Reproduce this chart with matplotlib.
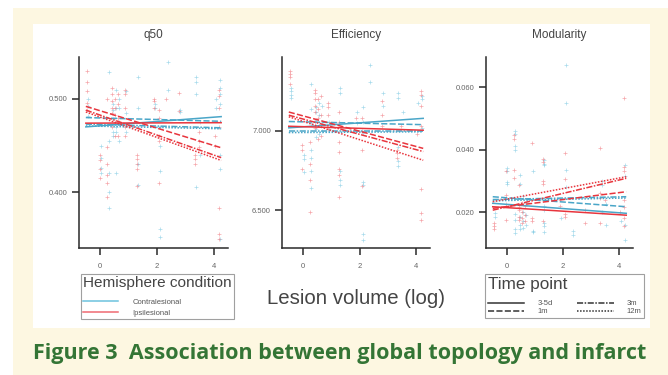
import numpy as np
import matplotlib
matplotlib.use("Agg")
import matplotlib.pyplot as plt
from matplotlib.patches import Rectangle
from matplotlib.lines import Line2D

plt.rcParams['font.family'] = ['Liberation Sans', 'DejaVu Sans']

# lesion volume (log) of each subject
subj_x = [-0.45, 0.0, 0.28, 0.45, 0.55, 0.65, 0.9, 1.3, 1.9, 2.1, 2.35, 2.8, 3.35, 3.5, 4.05, 4.2]

# q50 values per subject
q50_contra = [[0.500, 0.492, 0.482], [0.450, 0.437, 0.426, 0.420],
              [0.529, 0.455, 0.420, 0.400, 0.383], [0.495, 0.488, 0.478, 0.465, 0.460],
              [0.510, 0.490, 0.470, 0.465, 0.420], [0.500, 0.490, 0.475, 0.455],
              [0.508, 0.485, 0.465], [0.523, 0.490, 0.430, 0.408], [0.495, 0.490],
              [0.470, 0.450, 0.423, 0.360, 0.352], [0.540, 0.510], [0.488, 0.486],
              [0.523, 0.518, 0.505, 0.405], [0.475, 0.440], [0.500, 0.490],
              [0.520, 0.512, 0.505, 0.495, 0.440, 0.425, 0.350]]
q50_ipsi = [[0.530, 0.518, 0.508, 0.496, 0.488], [0.440, 0.434, 0.425, 0.415],
            [0.500, 0.448, 0.430, 0.418, 0.410, 0.395], [0.512, 0.505, 0.498, 0.490, 0.485, 0.470],
            [0.500, 0.490, 0.483, 0.475, 0.460], [0.505, 0.495, 0.480, 0.460],
            [0.510, 0.505, 0.490, 0.470, 0.460], [0.440, 0.435, 0.430, 0.425, 0.407],
            [0.500, 0.498, 0.490], [0.488, 0.480, 0.460, 0.455, 0.410], [0.500],
            [0.506, 0.487], [0.440, 0.435, 0.430], [0.465, 0.455, 0.448], [0.460, 0.450],
            [0.510, 0.503, 0.490, 0.470, 0.383, 0.355, 0.350]]

# efficiency values per subject
eff_contra = [[7.27, 7.25, 7.23, 7.21], [6.85, 6.82, 6.74],
              [7.30, 7.14, 7.05, 6.88, 6.83, 6.75, 6.64], [7.15, 7.12, 7.07, 7.01, 6.96],
              [7.18, 7.10, 7.04, 6.98], [7.16, 7.06, 7.00], [7.06, 7.01],
              [7.27, 7.24, 6.75, 6.69, 6.66], [7.12, 7.05],
              [7.15, 7.06, 6.99, 6.68, 6.66, 6.35, 6.31], [7.42, 7.31], [7.24, 7.16],
              [7.24, 7.21, 6.90, 6.81, 6.78], [7.12], [7.18], [7.22, 7.20, 7.02]]
eff_ipsi = [[7.38, 7.36, 7.34, 7.30], [6.91, 6.88, 6.76], [6.93, 6.79, 6.69, 6.49],
            [7.26, 7.24, 7.20, 7.16, 7.12, 7.06, 7.02], [7.20, 7.14, 7.08, 6.95],
            [7.22, 7.10, 7.04, 6.97], [7.18, 7.15, 7.10, 7.01],
            [7.12, 7.06, 6.93, 6.87, 6.76, 6.72, 6.58], [7.08], [7.08, 7.00, 6.88, 6.65],
            [], [7.19, 7.10, 7.03], [6.88, 6.86, 6.83], [7.03], [6.98],
            [7.25, 7.23, 7.16, 7.03, 6.63, 6.48, 6.44]]

# modularity values per subject
mod_contra = [[0.0196, 0.0185], [0.0340, 0.0330, 0.0297, 0.0290],
              [0.0460, 0.0450, 0.0410, 0.0400, 0.0195, 0.0175, 0.0145, 0.0133],
              [0.0318, 0.0290, 0.0185, 0.0160, 0.0145], [0.0250, 0.0200, 0.0170, 0.0150],
              [0.0230, 0.0190, 0.0160], [0.0330, 0.0140, 0.0135],
              [0.0365, 0.0355, 0.0350, 0.0220, 0.0205, 0.0165, 0.0155, 0.0135], [0.0180],
              [0.0670, 0.0550, 0.0334, 0.0280], [0.0140, 0.0125], [],
              [0.0300, 0.0285, 0.0200], [0.0225, 0.0160], [0.0170],
              [0.0350, 0.0315, 0.0160, 0.0110]]
mod_ipsi = [[0.0165, 0.0155, 0.0145], [0.0330, 0.0255, 0.0225, 0.0175],
            [0.0446, 0.0435, 0.0335, 0.0310], [0.0285, 0.0215, 0.0205, 0.0185, 0.0175],
            [0.0230, 0.0200, 0.0180, 0.0165], [0.0220, 0.0190, 0.0170],
            [0.0420, 0.0180, 0.0170], [0.0370, 0.0360, 0.0300, 0.0290, 0.0170], [0.0220],
            [0.0389, 0.0305, 0.0195, 0.0185], [], [0.0206, 0.0165],
            [0.0405, 0.0260, 0.0245, 0.0165], [0.0240], [0.0200],
            [0.0565, 0.0345, 0.0330, 0.0240, 0.0215, 0.0180, 0.0155]]

# fitted lines: value at left end and right end, order 3-5d, 1m, 3m, 12m
line_x = [-0.5, 4.25]
timepoints = ['3-5d', '1m', '3m', '12m']
q50_fit_contra = [(0.470, 0.481), (0.480, 0.476), (0.473, 0.469), (0.471, 0.468)]
q50_fit_ipsi = [(0.474, 0.4745), (0.492, 0.4476), (0.488, 0.437), (0.486, 0.434)]
eff_fit_contra = [(7.02, 7.08), (7.06, 7.04), (7.00, 7.00), (6.99, 6.995)]
eff_fit_ipsi = [(7.03, 7.005), (7.12, 6.89), (7.10, 6.87), (7.09, 6.815)]
mod_fit_contra = [(0.0228, 0.0196), (0.0249, 0.0217), (0.0240, 0.0249), (0.0236, 0.0245)]
mod_fit_ipsi = [(0.0217, 0.0190), (0.0212, 0.0265), (0.0206, 0.0308), (0.0233, 0.0313)]

titles = ['q50', 'Efficiency', 'Modularity']
yticks = [[0.4, 0.5], [6.5, 7.0], [0.02, 0.04, 0.06]]
ylims = [(0.34, 0.545), (6.26, 7.468), (0.0085, 0.0696)]

blue = '#4aa6c8'
red = '#e8353d'
blue_pt = '#6cc2de'
red_pt = '#ef6a72'
styles = ['-', (0, (4, 1.5)), (0, (4, 1, 1, 1)), (0, (1, 1))]

W, H = 668, 375
fig = plt.figure(figsize=(W / 100, H / 100), dpi=100)
fig.patch.set_facecolor('white')
fig.patches.append(Rectangle((13 / W, 0), 1 - 13 / W, 1 - 8 / H, transform=fig.transFigure,
                             facecolor='#fdf7e1', edgecolor='none', zorder=-3))
fig.patches.append(Rectangle((33 / W, 1 - 328 / H), 617 / W, 304 / H, transform=fig.transFigure,
                             facecolor='white', edgecolor='none', zorder=-2))

lefts = [79, 282, 486]
widths = [149, 148, 147]
data = [(q50_contra, q50_ipsi, q50_fit_contra, q50_fit_ipsi),
        (eff_contra, eff_ipsi, eff_fit_contra, eff_fit_ipsi),
        (mod_contra, mod_ipsi, mod_fit_contra, mod_fit_ipsi)]

for i in range(3):
    ax = fig.add_axes([lefts[i] / W, 1 - 248 / H, widths[i] / W, 191 / H])
    ax.set_facecolor('none')
    contra, ipsi, fc, fi = data[i]
    for pts, col, dx in [(contra, blue_pt, 0.02), (ipsi, red_pt, -0.02)]:
        xx = []
        yy = []
        for x, vals in zip(subj_x, pts):
            for v in vals:
                xx.append(x + dx)
                yy.append(v)
        ax.scatter(xx, yy, marker='+', s=5, linewidths=0.5, color=col, alpha=0.6, zorder=1)
    for k in range(4):
        ax.plot(line_x, fc[k], color=blue, lw=1.1, ls=styles[k], zorder=2)
        ax.plot(line_x, fi[k], color=red, lw=1.1, ls=styles[k], zorder=3)
    ax.set_xlim(-0.74, 4.49)
    ax.set_ylim(*ylims[i])
    ax.set_xticks([0, 2, 4])
    ax.set_yticks(yticks[i])
    ax.set_yticklabels(['%.3f' % v for v in yticks[i]])
    for s in ['top', 'right']:
        ax.spines[s].set_visible(False)
    for s in ['left', 'bottom']:
        ax.spines[s].set_color('#2a2a2a')
        ax.spines[s].set_linewidth(1.1)
    ax.tick_params(axis='both', length=5, width=1.1, color='#2a2a2a', labelsize=5.5,
                   labelcolor='#666666')
    ax.tick_params(axis='x', pad=6)
    ax.tick_params(axis='y', pad=3)
    ax.set_title(titles[i], fontsize=8.5, color='#444444', pad=14)

fig.text(356 / W, 1 - 298 / H, 'Lesion volume (log)', fontsize=14.7, color='#444444',
         ha='center', va='center')

# legends
hemi_handles = [Line2D([], [], color=blue_pt, lw=1.1), Line2D([], [], color=red_pt, lw=1.1)]
leg1 = fig.legend(hemi_handles, ['Contralesional', 'Ipsilesional'], title='Hemisphere condition',
                  loc='upper left', bbox_to_anchor=(81 / W, 1 - 274 / H), borderaxespad=0,
                  frameon=True, fancybox=False, edgecolor='#888888', fontsize=5.5,
                  title_fontsize=11.1, handlelength=4.6, handletextpad=1.8, labelspacing=0.45,
                  borderpad=0.3, labelcolor='#555555')
leg1.get_title().set_color('#444444')
leg1._legend_box.align = 'left'
leg1._legend_box.sep = 6
leg1.get_frame().set_linewidth(0.8)

tp_handles = [Line2D([], [], color='#333333', lw=1.1, ls=s) for s in styles]
leg2 = fig.legend(tp_handles, timepoints, title='Time point', ncol=2,
                  loc='upper left', bbox_to_anchor=(485 / W, 1 - 274 / H), borderaxespad=0,
                  frameon=True, fancybox=False, edgecolor='#888888', fontsize=5.5,
                  title_fontsize=12.3, handlelength=4.8, handletextpad=1.7, labelspacing=0.1,
                  borderpad=0.35, columnspacing=3.2, labelcolor='#555555')
leg2.get_title().set_color('#444444')
leg2._legend_box.align = 'left'
leg2._legend_box.sep = 6
leg2.get_frame().set_linewidth(0.8)

cap = fig.text(33 / W, 1 - 354 / H, 'Figure 3  Association between global topology and infarct',
               fontsize=13, fontweight='bold', color='#347535', family=['Open Sans', 'DejaVu Sans'],
               ha='left', va='center')
# stretch caption to the width it has in the page
r = fig.canvas.get_renderer()
wpx = cap.get_window_extent(r).width
cap.set_fontsize(13 * 607 / wpx)

fig.savefig('out.png', dpi=100, facecolor=fig.get_facecolor())
